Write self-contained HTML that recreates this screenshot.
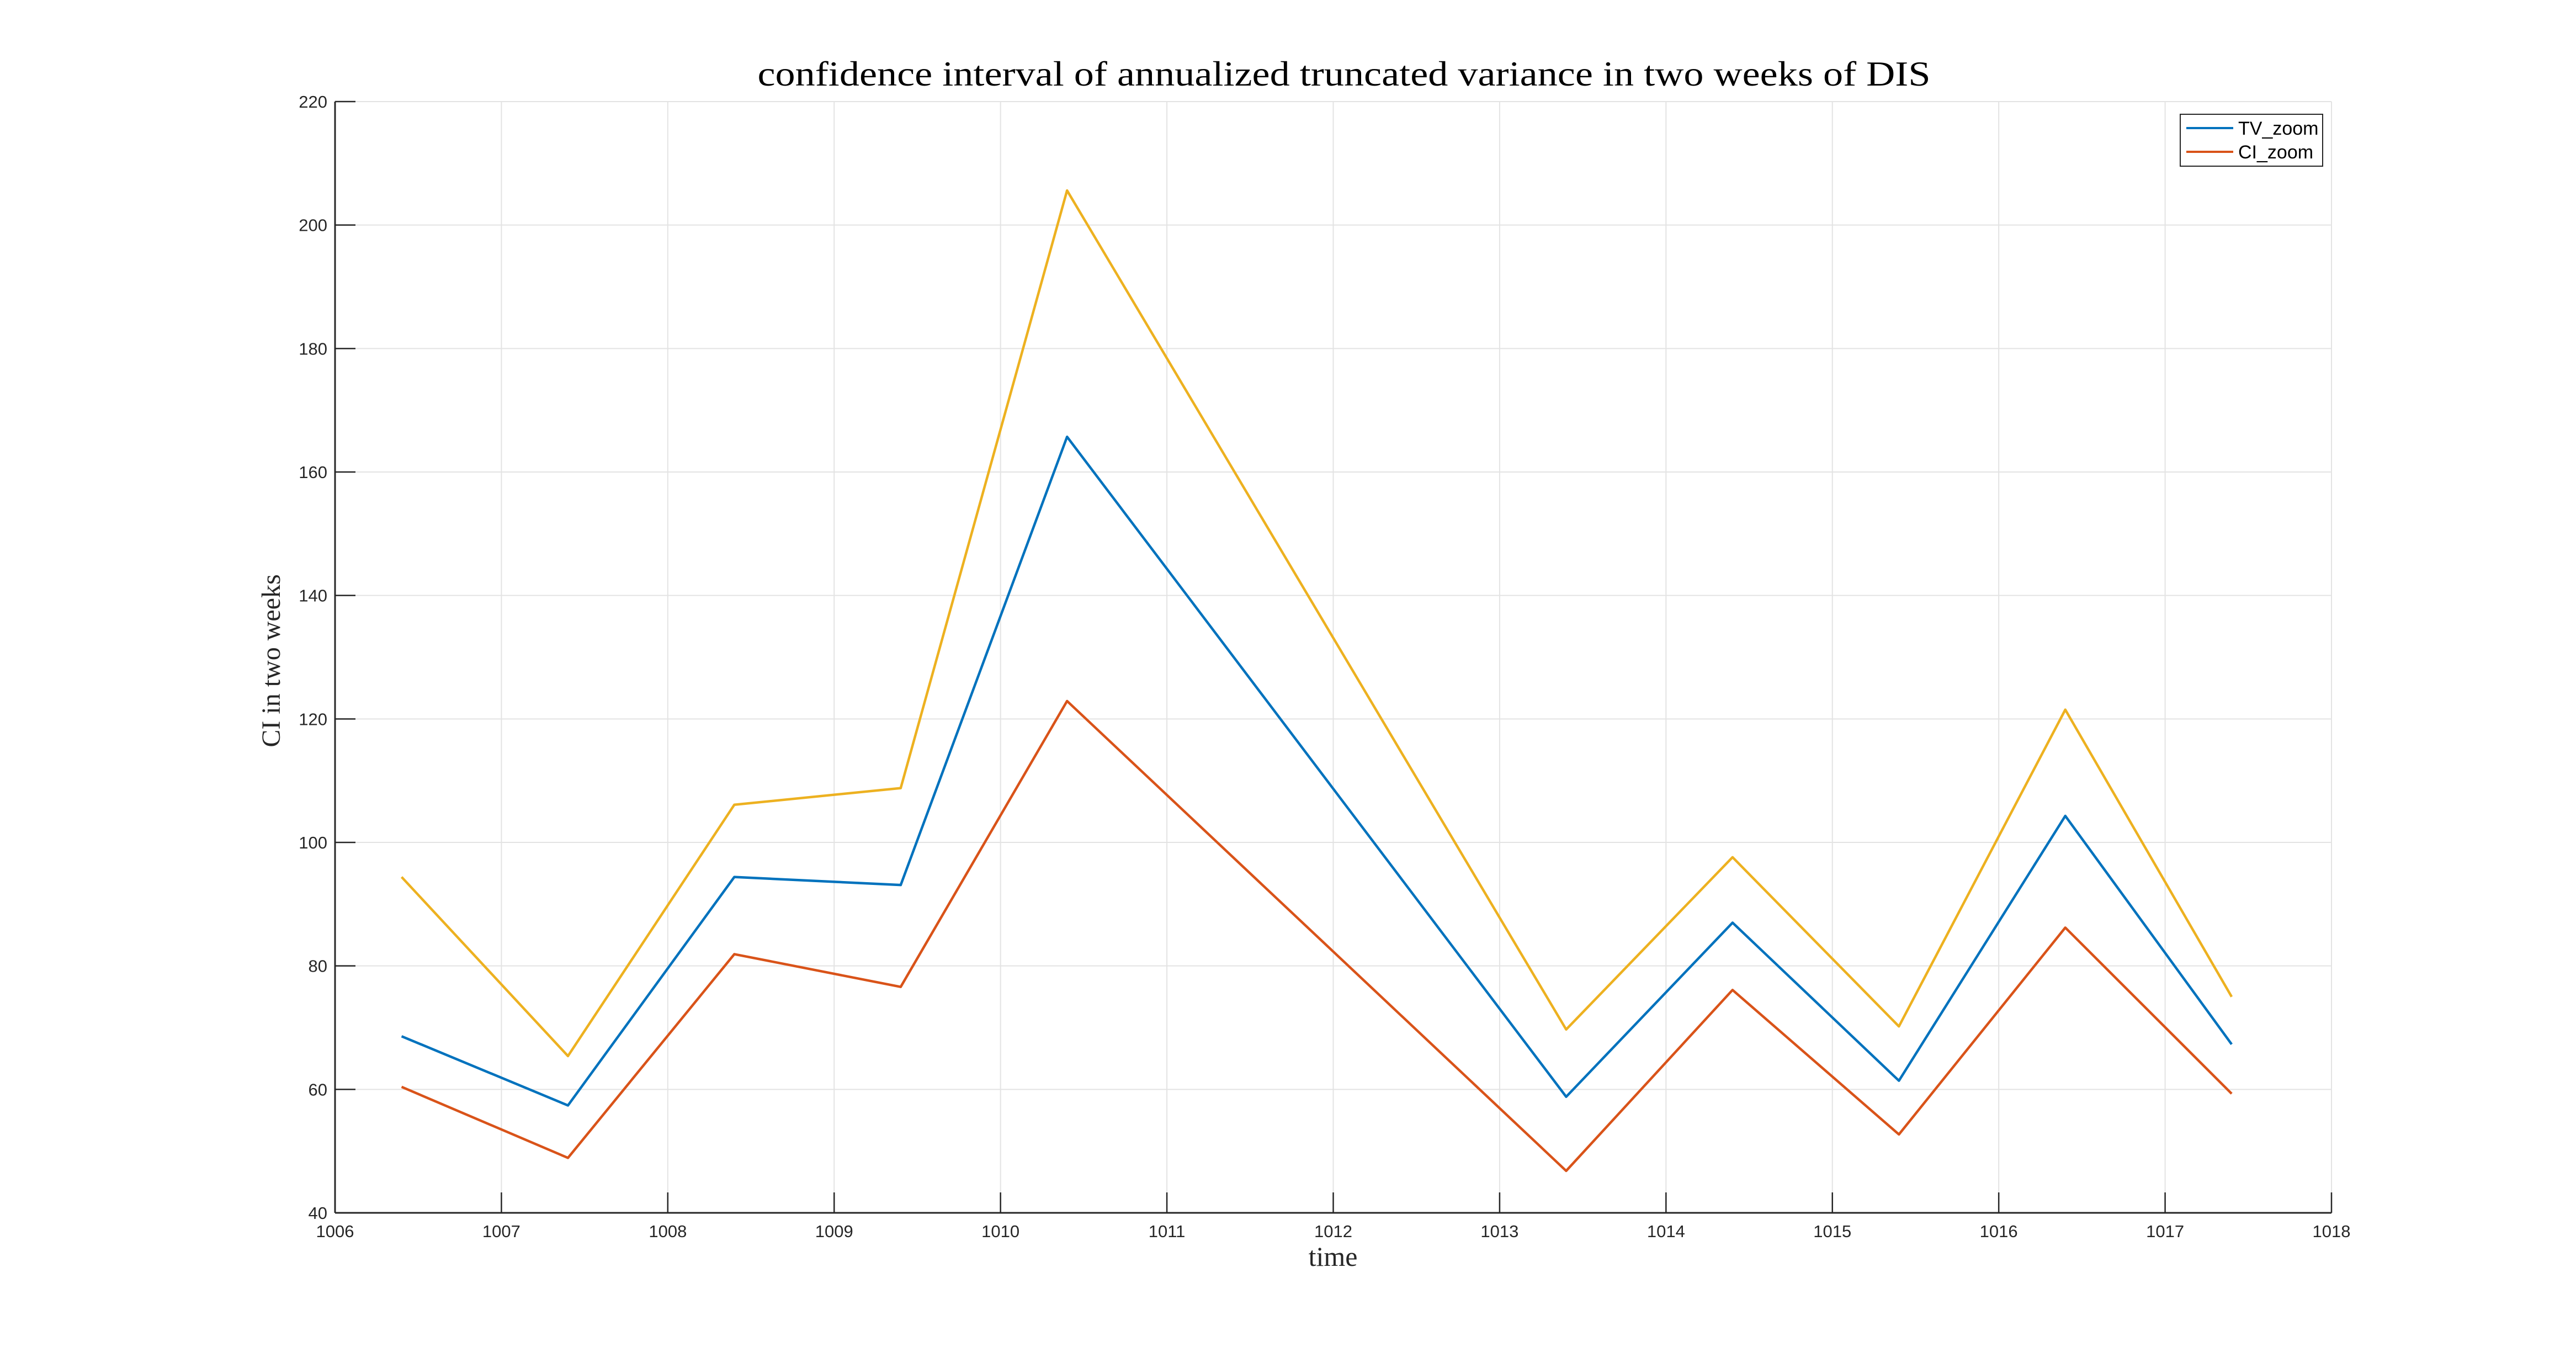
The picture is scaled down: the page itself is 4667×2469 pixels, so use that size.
<!DOCTYPE html>
<html><head><meta charset="utf-8"><style>
html,body{margin:0;padding:0;background:#fff;width:4667px;height:2469px;overflow:hidden}
svg{display:block}
</style></head><body>
<svg id="chart" width="4667" height="2469" xmlns="http://www.w3.org/2000/svg">
<g id="grid"></g>
<g id="series"></g>
<g id="axes"></g>
<text x="2435" y="155" text-anchor="middle" font-family="Liberation Serif, serif" font-size="64" fill="#000" textLength="2125" lengthAdjust="spacingAndGlyphs">confidence interval of annualized truncated variance in two weeks of DIS</text>
<text x="2415" y="2293" text-anchor="middle" font-family="Liberation Serif, serif" font-size="50" fill="#262626">time</text>
<text transform="translate(507,1197) rotate(-90)" text-anchor="middle" font-family="Liberation Serif, serif" font-size="48" fill="#262626">CI in two weeks</text>
<g>
<rect x="3950" y="207" width="258" height="94" fill="#fff" stroke="#262626" stroke-width="2"/>
<line x1="3961" y1="232" x2="4046" y2="232" stroke="#0072BD" stroke-width="4"/>
<text x="4055" y="244" font-family="Liberation Sans, sans-serif" font-size="34" fill="#000">TV_zoom</text>
<line x1="3961" y1="275" x2="4046" y2="275" stroke="#D95319" stroke-width="4"/>
<text x="4055" y="287" font-family="Liberation Sans, sans-serif" font-size="34" fill="#000">CI_zoom</text>
</g>
</svg>
<script>
const xValues = [1006.4,1007.4,1008.4,1009.4,1010.4,1013.4,1014.4,1015.4,1016.4,1017.4];
const tvZoom = [68.6,57.4,94.4,93.1,165.7,58.8,87.0,61.4,104.3,67.3];
const ciLower = [60.4,48.9,81.9,76.6,122.9,46.8,76.1,52.7,86.2,59.3];
const ciUpper = [94.4,65.4,106.1,108.8,205.6,69.7,97.6,70.2,121.5,75.0];
const xTicks = [1006,1007,1008,1009,1010,1011,1012,1013,1014,1015,1016,1017,1018];
const yTicks = [40,60,80,100,120,140,160,180,200,220];

const L=607,R=4224,T=184,B=2197,xMin=1006,xMax=1018,yMin=40,yMax=220;
const NS='http://www.w3.org/2000/svg';
function sx(v){return L+(v-xMin)/(xMax-xMin)*(R-L);}
function sy(v){return B-(v-yMin)/(yMax-yMin)*(B-T);}
function mk(tag,attrs,parent){const e=document.createElementNS(NS,tag);for(const k in attrs)e.setAttribute(k,attrs[k]);parent.appendChild(e);return e;}
const grid=document.getElementById('grid'),axes=document.getElementById('axes'),series=document.getElementById('series');
xTicks.forEach(t=>{
  const g=mk('line',{x1:sx(t),x2:sx(t),y1:T,y2:B,stroke:'#e3e3e3','stroke-width':2},grid);
  
  
  const k=mk('line',{x1:sx(t),x2:sx(t),y1:B,y2:B-37,stroke:'#262626','stroke-width':2.5},axes);
  
  
  const l=mk('text',{x:sx(t),y:2241,'text-anchor':'middle','font-family':'Liberation Sans, sans-serif','font-size':31,fill:'#262626'},axes);
  l.textContent=t;
  
  
});
yTicks.forEach(t=>{
  const g=mk('line',{x1:L,x2:R,y1:sy(t),y2:sy(t),stroke:'#e3e3e3','stroke-width':2},grid);
  
  
  const k=mk('line',{x1:L,x2:L+37,y1:sy(t),y2:sy(t),stroke:'#262626','stroke-width':2.5},axes);
  
  
  const l=mk('text',{x:593,y:sy(t)+11,'text-anchor':'end','font-family':'Liberation Sans, sans-serif','font-size':31,fill:'#262626'},axes);
  l.textContent=t;
  
  
});
const xa=mk('line',{x1:L,x2:R,y1:B,y2:B,stroke:'#262626','stroke-width':3},axes);


const ya=mk('line',{x1:L,x2:L,y1:T,y2:B,stroke:'#262626','stroke-width':3},axes);


function line(vals,color,name){
  const p=mk('polyline',{points:vals.map((v,i)=>sx(xValues[i])+','+sy(v)).join(' '),fill:'none',stroke:color,'stroke-width':4.5,'stroke-linejoin':'round'},series);
  
  
}
line(ciUpper,'#EDB120','ci-upper-line');
line(tvZoom,'#0072BD','tv-zoom-line');
line(ciLower,'#D95319','ci-lower-line');
</script>
</body></html>
